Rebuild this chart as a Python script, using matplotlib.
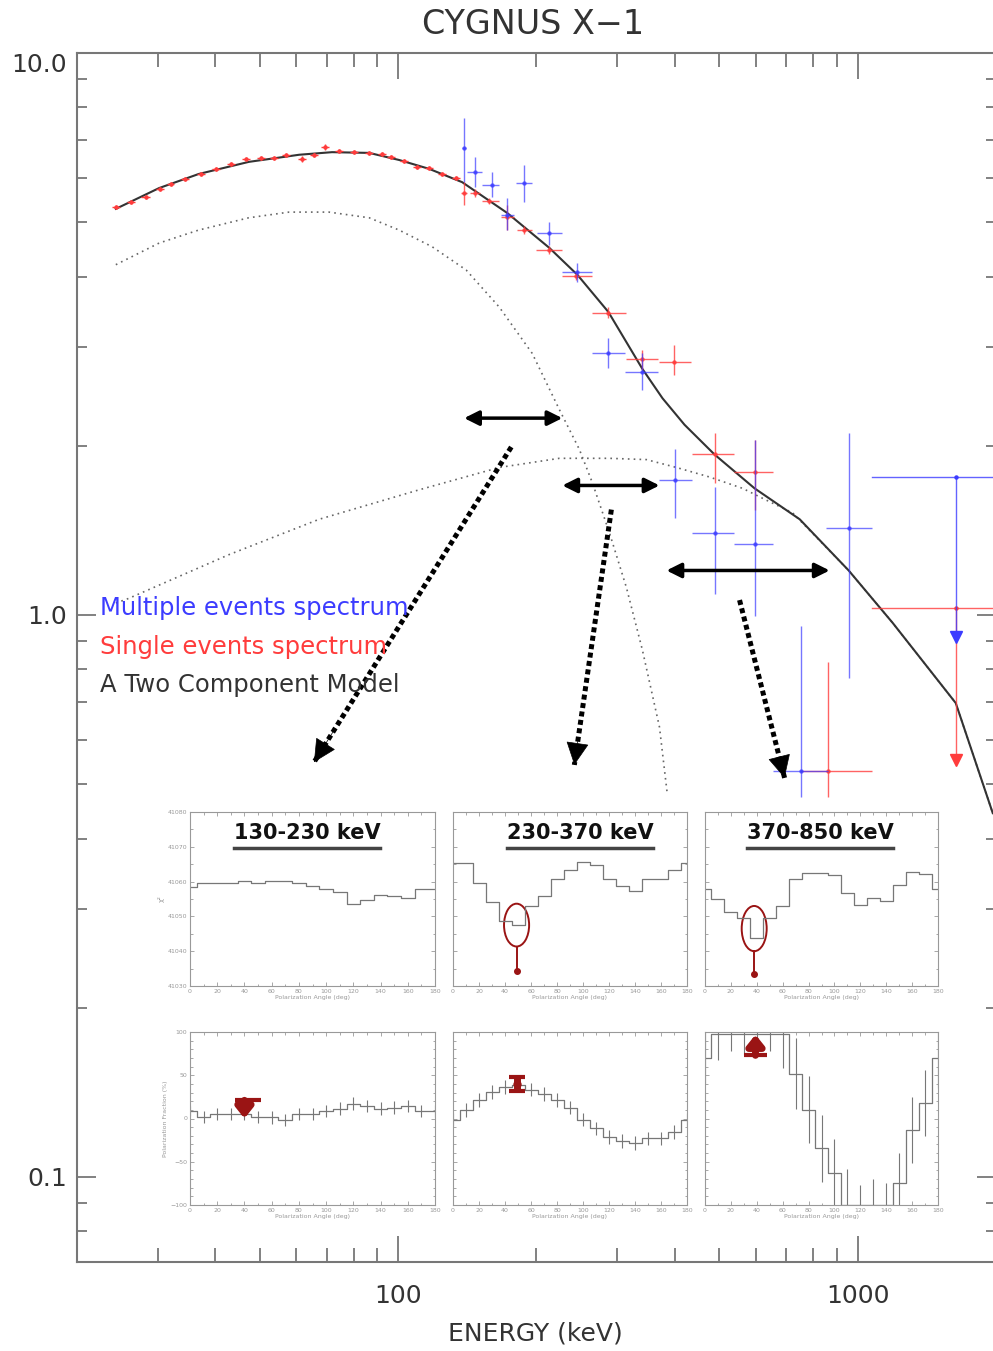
import numpy as np
import matplotlib
matplotlib.use("Agg")
import matplotlib.pyplot as plt
from matplotlib.patches import Ellipse
from matplotlib.ticker import MultipleLocator, NullFormatter

# ---------------- main spectrum (energy in keV, flux arbitrary) ----------------
# single events, dense low-energy part
red_E = [24.3, 26.2, 28.2, 30.3, 32.0, 34.4, 37.2, 40.1, 43.3, 46.6, 50.3, 53.7, 57.0,
         61.8, 65.6, 69.3, 74.4, 80.2, 86.5, 92.3, 96.5, 103.1, 110.0, 116.8, 124.7, 133.8]
red_F = [5.32, 5.43, 5.54, 5.73, 5.85, 5.97, 6.09, 6.22, 6.35, 6.48, 6.51, 6.51, 6.59,
         6.48, 6.59, 6.80, 6.69, 6.66, 6.64, 6.61, 6.53, 6.43, 6.27, 6.25, 6.09, 5.99]
red_dE = [0.5, 0.5, 0.6, 0.6, 0.6, 0.7, 0.7, 0.8, 0.9, 0.9, 1.0, 1.1, 1.1,
          1.2, 1.3, 1.4, 1.5, 1.6, 1.7, 1.8, 1.9, 2.1, 2.2, 2.3, 2.5, 2.7]
red_dF = [0.05, 0.05, 0.05, 0.05, 0.05, 0.05, 0.05, 0.05, 0.05, 0.05, 0.05, 0.05, 0.05,
          0.08, 0.05, 0.08, 0.05, 0.05, 0.05, 0.05, 0.05, 0.05, 0.05, 0.05, 0.05, 0.05]

# single events, high-energy part (asymmetric errors)
redh_E = [139.2, 147.2, 157.8, 172.8, 188.2, 213.3, 244.2, 286.8, 340.1, 399.2, 488.1, 596.6, 860.2]
redh_F = [5.64, 5.64, 5.45, 5.11, 4.84, 4.46, 4.01, 3.45, 2.85, 2.82, 1.93, 1.80, 0.528]
redh_Elo = [137.0, 143.0, 152.4, 167.6, 181.0, 199.8, 227.7, 264.6, 313.8, 370.4, 437.0, 539.5, 751.0]
redh_Ehi = [141.5, 151.0, 166.0, 178.9, 196.0, 227.7, 264.6, 313.8, 368.6, 434.9, 539.5, 652.9, 1073.0]
redh_Flo = [5.36, 5.55, 5.38, 4.84, 4.76, 4.38, 3.94, 3.37, 2.73, 2.67, 1.72, 1.54, 0.474]
redh_Fhi = [5.89, 5.73, 5.52, 5.36, 4.92, 4.54, 4.08, 3.53, 2.96, 3.02, 2.11, 2.05, 0.825]

# multiple events
blue_E = [139.2, 147.2, 160.2, 172.8, 188.2, 213.3, 245.5, 286.8, 340.1, 401.3, 488.1, 596.6, 751.1, 956.0]
blue_F = [6.78, 6.14, 5.82, 5.15, 5.87, 4.78, 4.08, 2.92, 2.71, 1.74, 1.40, 1.34, 0.528, 1.43]
blue_Elo = [138.0, 141.3, 152.4, 167.6, 180.8, 200.8, 227.7, 264.6, 312.3, 370.4, 437.0, 539.5, 652.9, 851.7]
blue_Ehi = [140.5, 152.4, 166.0, 178.9, 195.8, 227.7, 264.6, 312.3, 368.6, 437.0, 539.5, 652.9, 860.2, 1073.0]
blue_Flo = [5.89, 5.78, 5.54, 4.84, 5.43, 4.55, 3.91, 2.75, 2.51, 1.49, 1.09, 0.996, 0.474, 0.772]
blue_Fhi = [7.66, 6.53, 6.14, 5.52, 6.32, 5.00, 4.23, 3.11, 2.92, 1.97, 1.69, 2.05, 0.956, 2.11]

# upper limits in the last bin: (E, Elo, Ehi, F, arrow tip)
blue_ul = (1635.0, 1073.0, 2000.0, 1.76, 0.914)
red_ul = (1635.0, 1073.0, 2000.0, 1.03, 0.552)

# two component model
model_E = [24.3, 30.2, 36.8, 47.3, 60.9, 71.8, 86.5, 100.5, 116.8, 137.8, 172.8, 213.3, 245.5,
           286.8, 340.1, 376.1, 420.0, 488.1, 596.6, 748.0, 956.0, 1192.0, 1635.0, 1968.0]
model_F = [5.28, 5.75, 6.09, 6.40, 6.59, 6.66, 6.64, 6.45, 6.22, 5.89, 5.19, 4.50, 4.03,
           3.46, 2.74, 2.43, 2.18, 1.93, 1.68, 1.48, 1.20, 0.968, 0.697, 0.444]
comp1_E = [24.3, 30.2, 36.8, 47.3, 57.9, 70.7, 86.5, 100.5, 118.6, 140.6, 166.0, 195.8, 224.3,
           248.0, 264.6, 288.3, 313.8, 340.1, 370.4, 385.5]
comp1_F = [4.20, 4.59, 4.84, 5.09, 5.21, 5.21, 5.09, 4.84, 4.52, 4.11, 3.53, 2.92, 2.32,
           1.97, 1.72, 1.40, 1.12, 0.866, 0.632, 0.478]
comp2_E = [24.3, 25.9, 42.8, 67.3, 111.1, 166.0, 224.3, 288.3, 347.0, 403.3, 476.0, 561.7,
           633.5, 721.7, 956.0, 1192.0, 1635.0, 1968.0]
comp2_F = [1.05, 1.07, 1.28, 1.48, 1.67, 1.83, 1.90, 1.90, 1.89, 1.83, 1.76, 1.68,
           1.60, 1.52, 1.20, 0.968, 0.697, 0.444]

# energy bands (double arrows) and pointers to the insets
band_lo = [139.2, 227.7, 383.7]
band_hi = [227.7, 370.4, 869.0]
band_F = [2.24, 1.70, 1.20]
ptr_E0 = [176.3, 291.1, 553.3]
ptr_F0 = [1.99, 1.54, 1.063]
ptr_E1 = [65.6, 241.8, 693.4]
ptr_F1 = [0.547, 0.541, 0.513]

# ---------------- inset data ----------------
angles = [0, 10, 20, 30, 40, 50, 60, 70, 80, 90, 100, 110, 120, 130, 140, 150, 160, 170, 180]
band_titles = ["130-230 keV", "230-370 keV", "370-850 keV"]
chi2 = [
    [41058.4, 41059.5, 41059.5, 41059.5, 41060.3, 41059.5, 41060.3, 41060.3, 41059.5, 41058.6,
     41057.8, 41056.9, 41053.7, 41054.7, 41056.1, 41055.8, 41055.3, 41057.8, 41057.8],
    [41065.4, 41065.4, 41059.7, 41054.1, 41048.6, 41047.5, 41052.9, 41055.9, 41060.7, 41063.3,
     41065.6, 41064.9, 41060.8, 41058.6, 41057.4, 41060.7, 41060.7, 41063.3, 41065.4],
    [41058.0, 41055.0, 41051.2, 41049.5, 41043.7, 41049.5, 41053.1, 41060.7, 41062.4, 41062.4,
     41061.8, 41056.7, 41053.3, 41055.2, 41054.5, 41059.0, 41062.7, 41062.1, 41058.0],
]
# best-angle markers in the chi2 panels: (angle, ellipse center, width, height, dot value)
chi2_best = [None, (48.9, 41047.5, 19.3, 12.3, 41034.2), (38.0, 41046.5, 19.3, 13.0, 41033.5)]
title_x = [0.478, 0.543, 0.494]

pol_frac = [
    [8.8, 1.9, 5.0, 5.0, 5.0, 1.9, 1.2, -1.9, 5.0, 5.0, 8.8, 11.5, 17.3, 14.2, 11.5, 12.7, 14.2, 8.8, 8.8],
    [-1.2, 9.6, 21.2, 30.8, 36.5, 38.5, 33.5, 28.8, 21.2, 12.7, -1.2, -11.5, -21.2, -25.8, -28.8,
     -23.1, -23.1, -15.4, -1.2],
    [70.4, 98.0, 98.0, 98.0, 98.0, 98.0, 98.0, 51.9, 10.4, -34.6, -63.5, -100.0, -100.0, -100.0,
     -100.0, -75.0, -13.5, 18.1, 70.4],
]
pol_err = [
    [6, 7, 7, 7, 7, 7, 7, 7, 7, 7, 7, 7, 7, 7, 7, 7, 7, 7, 7],
    [7, 8, 8, 8, 8, 8, 8, 8, 8, 8, 8, 8, 8, 8, 8, 8, 8, 8, 7],
    [30, 30, 20, 25, 20, 20, 40, 41, 39, 39, 40, 42, 23, 30, 25, 35, 38, 38, 35],
]

DARKRED = "#9a1414"
BLUE = "#3c3cff"
RED = "#ff3c3c"
GREY = "#777777"

fig = plt.figure(figsize=(9.93, 13.51), dpi=100, facecolor="white")
ax = fig.add_axes([0.0775, 0.0659, 0.9255, 0.8949])
ax.set_xscale("log")
ax.set_yscale("log")
ax.set_xlim(20, 2000)
ax.set_ylim(0.0706, 10.0)

# model curves
ax.plot(model_E, model_F, color="#333333", lw=1.5, zorder=3)
ax.plot(comp1_E, comp1_F, color="#666666", lw=1.2, ls=(0, (1, 2.5)), zorder=2)
ax.plot(comp2_E, comp2_F, color="#666666", lw=1.2, ls=(0, (1, 2.5)), zorder=2)

# data
ax.errorbar(red_E, red_F, xerr=red_dE, yerr=red_dF, fmt="o", ms=2.2, color=RED,
            ecolor=RED, elinewidth=1.0, capsize=0, zorder=4)
rE, rF = np.array(redh_E), np.array(redh_F)
ax.errorbar(rE, rF, xerr=[rE - np.array(redh_Elo), np.array(redh_Ehi) - rE],
            yerr=[rF - np.array(redh_Flo), np.array(redh_Fhi) - rF],
            fmt="o", ms=2.2, color=RED, ecolor=RED, elinewidth=1.0, alpha=0.8, zorder=4)
bE, bF = np.array(blue_E), np.array(blue_F)
ax.errorbar(bE, bF, xerr=[bE - np.array(blue_Elo), np.array(blue_Ehi) - bE],
            yerr=[bF - np.array(blue_Flo), np.array(blue_Fhi) - bF],
            fmt="o", ms=2.2, color=BLUE, ecolor=BLUE, elinewidth=1.0, alpha=0.7, zorder=5)

for ul, c in ((red_ul, RED), (blue_ul, BLUE)):
    e, elo, ehi, f, tip = ul
    ax.plot([elo, ehi], [f, f], color=c, lw=1.0, alpha=0.8, zorder=5)
    ax.plot([e, e], [f, tip], color=c, lw=1.0, alpha=0.8, zorder=5)
    ax.plot([e], [f], "o", ms=2.2, color=c, zorder=5)
    ax.plot([e], [tip], "v", ms=9, color=c, zorder=6)

# energy band arrows
for lo, hi, f in zip(band_lo, band_hi, band_F):
    ax.annotate("", xy=(hi, f), xytext=(lo, f),
                arrowprops=dict(arrowstyle="<|-|>", lw=2.5, color="black",
                                mutation_scale=22, shrinkA=0, shrinkB=0), zorder=7)

# dotted pointers: dotted shaft plus a solid head near the tip
for e0, f0, e1, f1 in zip(ptr_E0, ptr_F0, ptr_E1, ptr_F1):
    ax.plot([e0, e1], [f0, f1], color="black", lw=3.6, ls=(0, (1.0, 0.7)),
            dash_capstyle="butt", zorder=7)
    eh = e0 ** 0.1 * e1 ** 0.9
    fh = f0 ** 0.1 * f1 ** 0.9
    ax.annotate("", xy=(e1, f1), xytext=(eh, fh),
                arrowprops=dict(arrowstyle="-|>,head_length=1.0,head_width=0.5", lw=0.5,
                                color="black", mutation_scale=15, shrinkA=0, shrinkB=0),
                zorder=7)

# axes styling
ax.set_xticks([100, 1000])
ax.set_xticklabels(["100", "1000"])
ax.set_yticks([0.1, 1.0, 10.0])
ax.set_yticklabels(["0.1", "1.0", "10.0"])
ax.xaxis.set_minor_formatter(NullFormatter())
ax.yaxis.set_minor_formatter(NullFormatter())
ax.tick_params(which="both", direction="in", top=True, right=True, color="#777777",
               labelcolor="#333333")
ax.tick_params(axis="x", which="major", length=19, width=1.3, labelsize=18, pad=16)
ax.tick_params(axis="x", which="minor", length=10, width=1.3)
ax.tick_params(axis="y", which="major", length=14, width=1.3, labelsize=18, pad=7)
ax.tick_params(axis="y", which="minor", length=7, width=1.3)
for s in ax.spines.values():
    s.set_color("#777777")
    s.set_linewidth(1.5)
for lab in ax.get_yticklabels():
    if lab.get_text() == "10.0":
        lab.set_va("top")

fig.text(0.537, 1 - 25 / 1351, "CYGNUS X\u22121", ha="center", va="center",
         fontsize=24, color="#333333")
fig.text(0.539, 1 - 1333 / 1351, "ENERGY (keV)", ha="center", va="center",
         fontsize=18, color="#333333")

legend_lines = [("Multiple events spectrum", BLUE, 608),
                ("Single events spectrum", RED, 647),
                ("A Two Component Model", "#333333", 685)]
for txt, c, ypix in legend_lines:
    fig.text(100 / 993, 1 - ypix / 1351, txt, ha="left", va="center", fontsize=17.5, color=c)

# ---------------- insets ----------------
col_left = [190, 453, 705]
col_right = [435, 687, 938]
row_top = [812, 1032]
row_bot = [986, 1205]


def make_inset(i, r):
    l = col_left[i] / 993
    w = (col_right[i] - col_left[i]) / 993
    b = 1 - row_bot[r] / 1351
    h = (row_bot[r] - row_top[r]) / 1351
    a = fig.add_axes([l, b, w, h], facecolor="white")
    a.set_xlim(0, 180)
    a.xaxis.set_major_locator(MultipleLocator(20))
    a.xaxis.set_minor_locator(MultipleLocator(10))
    a.tick_params(which="both", direction="in", top=True, right=True, color="#999999",
                  labelcolor="#999999", labelsize=4.5, pad=2)
    a.tick_params(which="major", length=3, width=0.6)
    a.tick_params(which="minor", length=1.8, width=0.6)
    for s in a.spines.values():
        s.set_color("#999999")
        s.set_linewidth(0.8)
    a.set_xlabel("Polarization Angle (deg)", fontsize=4.5, color="#999999", labelpad=1)
    return a


for i in range(3):
    a = make_inset(i, 0)
    a.step(angles, chi2[i], where="mid", color=GREY, lw=0.9)
    a.set_ylim(41030, 41080)
    a.yaxis.set_major_locator(MultipleLocator(10))
    a.yaxis.set_minor_locator(MultipleLocator(5))
    if i == 0:
        a.set_ylabel("\u03c7\u00b2", fontsize=5, color="#999999", labelpad=2)
    else:
        a.set_yticklabels([])
    best = chi2_best[i]
    if best is not None:
        ang, yc, ew, eh, ydot = best
        a.add_patch(Ellipse((ang, yc), ew, eh, fill=False, edgecolor=DARKRED, lw=1.4))
        a.plot([ang, ang], [yc - eh / 2, ydot], color=DARKRED, lw=1.4)
        a.plot([ang], [ydot], "o", ms=4, color=DARKRED)
    t = a.text(title_x[i], 0.88, band_titles[i], transform=a.transAxes, ha="center",
               va="center", fontsize=15, fontweight="bold", color="#111111")
    fig.canvas.draw()
    bb = t.get_window_extent().transformed(a.transAxes.inverted())
    a.plot([bb.x0, bb.x1], [0.795, 0.795], transform=a.transAxes, color="#444444", lw=2.5)

for i in range(3):
    a = make_inset(i, 1)
    a.step(angles, pol_frac[i], where="mid", color=GREY, lw=0.9)
    a.errorbar(angles, pol_frac[i], yerr=pol_err[i], fmt="none", ecolor=GREY, elinewidth=0.8)
    a.set_ylim(-100, 100)
    a.yaxis.set_major_locator(MultipleLocator(50))
    a.yaxis.set_minor_locator(MultipleLocator(10))
    if i == 0:
        a.set_ylabel("Polarization Fraction (%)", fontsize=4.5, color="#999999", labelpad=2)
    else:
        a.set_yticklabels([])

ax4, ax5, ax6 = fig.axes[-3:]
# upper limit, measurement, lower limit on the polarization fraction
ax4.plot([33, 52], [21, 21], color=DARKRED, lw=3, solid_capstyle="butt")
ax4.annotate("", xy=(40, 0), xytext=(40, 21),
             arrowprops=dict(arrowstyle="-|>,head_length=0.5,head_width=0.4", lw=5,
                             color=DARKRED, mutation_scale=12, shrinkA=0, shrinkB=0))
ax5.errorbar([48.9], [40.0], yerr=[8.1], fmt="o", ms=5, color=DARKRED, ecolor=DARKRED,
             elinewidth=5, capsize=6, capthick=3)
ax6.plot([30, 48], [73, 73], color=DARKRED, lw=3, solid_capstyle="butt")
ax6.annotate("", xy=(39, 97), xytext=(39, 73),
             arrowprops=dict(arrowstyle="-|>,head_length=0.5,head_width=0.4", lw=5,
                             color=DARKRED, mutation_scale=12, shrinkA=0, shrinkB=0))

fig.savefig("out.png", dpi=100, facecolor="white")
plt.close(fig)
